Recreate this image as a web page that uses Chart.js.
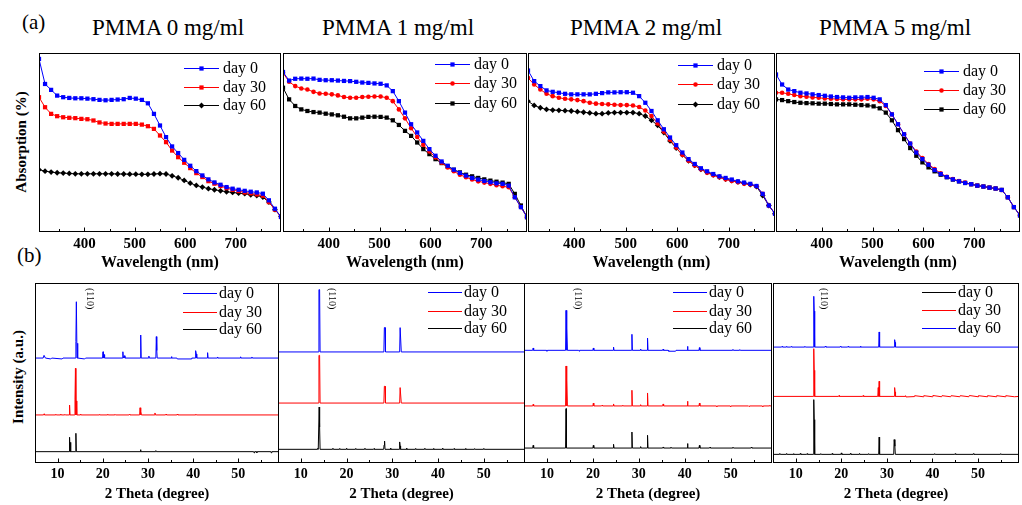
<!DOCTYPE html>
<html><head><meta charset="utf-8">
<script src="https://cdn.jsdelivr.net/npm/chart.js@4.4.1/dist/chart.umd.min.js"></script>
<style>
html,body{margin:0;padding:0;background:#fff;}
#wrap{position:relative;width:1022px;height:505px;overflow:hidden;background:#fff;font-family:"Liberation Serif","Times New Roman",serif;color:#000;}
canvas{position:absolute;}
.t{position:absolute;white-space:nowrap;line-height:1;}
.ttl{font-size:23px;transform:translateX(-50%);}
.yt{font-size:15px;font-weight:bold;transform:translate(-50%,-50%) rotate(-90deg);}
</style></head><body>
<div id="wrap">
  <div class="t" style="left:22px;top:12px;font-size:21px;">(a)</div>
  <div class="t" style="left:17px;top:245px;font-size:21px;">(b)</div>
  <div class="t ttl" style="left:168px;top:16px;">PMMA 0 mg/ml</div>
  <div class="t ttl" style="left:398px;top:16px;">PMMA 1 mg/ml</div>
  <div class="t ttl" style="left:646px;top:16px;">PMMA 2 mg/ml</div>
  <div class="t ttl" style="left:895px;top:16px;">PMMA 5 mg/ml</div>
  <div class="t yt" style="left:21px;top:142px;">Absorption (%)</div>
  <div class="t yt" style="left:18px;top:377px;">Intensity (a.u.)</div>
</div>
<script>
// ---------- DATA ----------
const wavelengths = [310,322,334,346,358,370,382,394,406,418,430,442,454,466,478,490,502,514,526,538,550,562,574,586,598,610,622,634,646,658,670,682,694,706,718,730,742,754,766,778,790];
const wlTickValues = [350,400,450,500,550,600,650,700,750];
const wlTickLabels = [400,500,600,700];
const thetaTickValues = [10,15,20,25,30,35,40,45,50,55];
const thetaTickLabels = [10,20,30,40,50];
const dayLabels = ['day 0','day 30','day 60'];
const panelTitles = ['PMMA 0 mg/ml','PMMA 1 mg/ml','PMMA 2 mg/ml','PMMA 5 mg/ml'];

// absorption (arbitrary %)
const abs0_day0  = [96.7,82.7,79.4,76.2,75.3,74.9,74.7,74.7,74.5,74.2,73.8,73.6,73.8,74.0,74.2,74.9,74.5,73.8,71.9,66.0,59.5,53.0,47.8,44.1,40.3,37.0,34.0,31.6,29.4,27.7,26.4,25.1,24.2,23.6,23.0,22.5,22.1,21.4,17.7,13.0,8.4];
const abs0_day30 = [75.3,69.7,66.0,64.7,64.1,63.8,63.6,63.2,63.0,62.3,61.2,60.6,60.4,60.4,60.4,60.4,60.4,60.0,59.1,57.6,53.9,50.2,45.5,41.8,38.7,35.7,32.9,30.7,28.4,27.0,25.7,24.5,23.6,22.9,22.1,21.6,21.0,20.3,16.7,12.5,8.4];
const abs0_day60 = [34.8,34.0,33.5,33.1,32.9,32.7,32.5,32.5,32.5,32.5,32.5,32.5,32.5,32.4,32.4,32.3,32.3,32.2,32.2,32.4,32.6,32.4,31.4,30.3,28.8,27.3,26.0,25.1,24.2,23.6,23.0,22.5,22.1,21.7,21.4,20.8,20.4,19.5,16.7,12.5,8.7];
const abs1_day0  = [89.4,84.6,85.6,85.7,85.6,85.7,85.0,84.8,84.8,84.6,84.4,84.3,83.9,83.5,83.3,83.0,82.8,81.9,78.7,73.1,66.7,60.2,55.6,50.9,46.3,42.6,39.4,37.0,34.8,33.0,31.5,30.2,29.3,28.5,27.8,27.2,26.9,25.9,19.4,13.9,8.3];
const abs1_day30 = [88.9,83.9,81.5,80.2,79.6,78.3,77.4,77.2,76.9,76.3,75.4,75.0,75.0,75.4,75.6,75.7,75.7,75.0,73.1,68.5,63.5,58.0,53.1,48.7,45.0,41.7,38.7,36.1,33.9,32.0,30.6,29.3,28.3,27.6,26.9,26.1,25.6,25.0,19.4,13.9,8.3];
const abs1_day60 = [80.6,74.1,70.4,68.5,67.6,67.0,66.7,66.1,65.7,65.2,64.4,63.5,63.5,63.9,64.3,64.4,64.3,63.9,62.4,59.8,56.5,53.7,50.0,46.3,43.5,40.7,38.5,36.5,34.8,33.3,32.0,31.1,30.2,29.4,28.7,28.1,27.6,26.9,21.3,14.8,8.3];
const abs2_day0  = [90.2,84.3,81.5,79.1,78.3,77.8,77.2,76.9,76.9,76.9,76.9,77.2,77.6,78.0,78.0,78.1,78.1,77.8,75.9,72.2,67.6,62.4,57.4,52.8,48.5,44.4,40.7,38.0,35.6,33.9,32.4,31.1,30.2,29.3,28.3,27.6,26.9,25.7,21.3,14.8,10.2];
const abs2_day30 = [86.1,82.4,79.6,77.2,75.9,75.0,74.4,74.1,73.7,73.1,72.2,71.7,71.5,71.3,71.1,70.9,70.9,70.7,69.8,67.9,64.8,60.6,56.1,51.5,47.2,43.1,39.8,37.2,35.0,33.1,31.7,30.6,29.4,28.5,27.8,27.0,26.5,25.6,21.3,14.8,10.2];
const abs2_day60 = [73.1,70.7,69.4,68.5,68.1,68.0,67.8,67.6,67.2,66.9,66.5,66.1,66.1,66.5,66.7,66.7,66.7,66.7,66.1,64.8,62.4,59.6,55.6,50.9,46.9,43.1,39.8,37.2,35.0,33.3,31.9,30.7,29.6,28.7,28.0,27.2,26.5,25.4,20.4,14.8,10.2];
const abs3_day0  = [88.0,82.4,79.6,78.7,77.8,77.4,76.9,76.5,76.1,75.7,75.4,75.2,75.0,75.2,75.2,75.4,75.0,74.1,70.9,65.7,60.2,54.6,49.4,44.4,40.7,37.6,34.6,32.4,30.7,29.4,28.3,27.4,26.7,25.9,25.4,24.8,24.3,23.5,19.4,13.9,9.3];
const abs3_day30 = [77.8,77.8,77.2,76.5,75.9,75.6,75.2,75.0,74.6,74.4,74.3,74.1,74.1,74.1,74.1,74.4,74.1,73.1,70.4,65.7,60.2,54.6,49.4,45.0,41.3,38.0,35.2,32.8,30.9,29.6,28.5,27.6,26.7,25.9,25.4,24.8,24.3,23.5,19.4,13.9,9.3];
const abs3_day60 = [74.1,73.7,73.1,72.6,72.2,72.0,71.9,71.7,71.7,71.5,71.3,71.3,71.3,71.1,70.9,70.7,70.2,69.1,66.7,62.4,56.9,51.9,46.9,42.6,38.9,36.1,33.9,32.0,30.6,29.3,28.3,27.4,26.7,25.9,25.4,24.8,24.3,23.5,19.4,13.9,9.3];

// XRD patterns [2theta, stacked intensity]
const xrd0_day0 = [[5,58.3],[6.8,58.3],[7.0,59.8],[7.3,58.3],[8.5,57.8],[8.7,58.3],[11,57.8],[11.2,58.3],[13.95,58.3],[14.05,67.5],[14.15,89.6],[14.3,58.3],[14.4,66.5],[14.5,58.3],[16,57.8],[16.2,58.3],[19.95,58.3],[20.05,61.8],[20.15,58.3],[20.3,60.2],[20.4,58.3],[24.35,58.3],[24.45,61.8],[24.55,58.3],[24.8,59.6],[24.9,58.3],[28.3,58.3],[28.4,71.1],[28.5,58.3],[30.1,58.3],[30.2,59.4],[30.3,58.3],[31.75,58.3],[31.85,70.2],[31.95,62.5],[32.05,58.3],[35.1,58.3],[35.2,59.1],[35.3,58.3],[36.4,58.3],[36.5,57.8],[39.6,57.8],[39.7,58.3],[40.45,58.3],[40.55,62.4],[40.7,60.5],[40.8,58.3],[43.1,58.3],[43.2,61.3],[43.3,58.3],[45.3,58.3],[45.4,58.9],[45.5,58.3],[50.4,58.3],[50.5,59.0],[50.6,58.3],[52.9,58.3],[53.0,58.9],[53.1,58.3],[59,58.3]];
const xrd0_day30 = [[5,26.7],[6.9,26.7],[7.0,27.3],[7.1,26.7],[9.5,26.7],[9.6,27.1],[9.7,26.7],[10.6,26.7],[10.7,27.2],[10.8,26.7],[11.5,26.7],[11.6,27.0],[11.7,26.7],[12.55,26.7],[12.65,32.2],[12.75,26.7],[13.75,26.7],[13.85,35.5],[13.95,52.6],[14.05,26.7],[14.15,34.5],[14.25,26.7],[15.0,26.7],[15.1,27.2],[15.2,26.7],[19.2,26.7],[19.3,27.0],[19.4,26.7],[21.0,26.7],[21.1,27.1],[21.2,26.7],[22.6,26.7],[22.7,27.0],[22.8,26.7],[25.8,26.7],[25.9,27.0],[26.0,26.7],[28.15,26.7],[28.25,30.7],[28.35,26.7],[28.45,28.5],[28.55,26.7],[31.45,26.7],[31.55,27.8],[31.65,26.7],[33.9,26.7],[34.0,27.2],[34.1,26.7],[36.4,26.7],[36.5,27.2],[36.6,26.7],[40.5,26.7],[40.6,27.1],[40.7,26.7],[59,26.7]];
const xrd0_day60 = [[5,6.3],[12.55,6.3],[12.65,14.3],[12.75,6.3],[12.85,11.5],[12.95,6.3],[13.95,6.3],[14.05,16.5],[14.15,6.3],[28.25,6.3],[28.35,7.4],[28.45,6.3],[31.65,6.3],[31.75,6.9],[31.85,6.3],[53.4,6.3],[53.5,5.6],[53.6,6.3],[54.0,6.3],[54.1,5.7],[54.2,6.3],[57.2,6.3],[57.3,5.6],[57.4,6.3],[59,6.3]];
const xrd1_day0 = [[5,61.7],[13.85,61.7],[13.95,96.3],[14.1,96.3],[14.2,61.7],[28.15,61.7],[28.25,75.2],[28.4,75.2],[28.5,61.7],[31.6,61.7],[31.7,75.2],[31.85,75.2],[31.95,61.7],[59,61.7]];
const xrd1_day30 = [[5,33.3],[13.85,33.3],[13.95,59.8],[14.1,59.8],[14.2,33.3],[28.15,33.3],[28.25,42.6],[28.4,42.6],[28.5,33.3],[31.6,33.3],[31.7,41.9],[31.85,41.9],[31.95,33.3],[59,33.3]];
const xrd1_day60 = [[5,7.6],[13.6,7.6],[13.7,8.2],[13.8,7.6],[13.9,7.6],[14.0,31.1],[14.1,20.0],[14.2,7.6],[16.9,7.6],[17.0,8.2],[17.1,7.6],[18.4,7.6],[18.5,8.1],[18.6,7.6],[19.9,7.6],[20.0,8.2],[20.1,7.6],[21.9,7.6],[22.0,8.1],[22.1,7.6],[23.9,7.6],[24.0,8.2],[24.1,7.6],[25.9,7.6],[26.0,8.0],[26.1,7.6],[28.1,7.6],[28.2,10.0],[28.3,12.2],[28.4,7.6],[29.5,7.6],[29.6,8.3],[29.7,7.6],[31.5,7.6],[31.6,11.7],[31.7,9.5],[31.8,7.6],[33.0,7.6],[33.1,8.3],[33.2,7.6],[35.0,7.6],[35.1,8.1],[35.2,7.6],[37.0,7.6],[37.1,8.2],[37.2,7.6],[38.9,7.6],[39.0,8.1],[39.1,7.6],[40.9,7.6],[41.0,8.3],[41.1,7.6],[43.4,7.6],[43.5,8.0],[43.6,7.6],[45.9,7.6],[46.0,8.1],[46.1,7.6],[47.9,7.6],[48.0,8.0],[48.1,7.6],[49.9,7.6],[50.0,8.1],[50.1,7.6],[59,7.6]];
const xrd2_day0 = [[5,62.6],[6.9,62.6],[7.0,63.9],[7.1,62.6],[9.9,62.6],[10.0,62.1],[10.1,62.6],[14.05,62.6],[14.15,84.8],[14.25,62.6],[14.35,75.0],[14.45,62.6],[16.9,62.6],[17.0,62.1],[17.1,62.6],[20.0,62.6],[20.1,63.9],[20.2,62.6],[24.4,62.6],[24.5,64.4],[24.6,62.6],[28.4,62.6],[28.5,71.5],[28.6,62.6],[30.3,62.6],[30.4,63.3],[30.5,62.6],[31.8,62.6],[31.9,69.4],[32.0,62.6],[35.2,62.6],[35.3,63.3],[35.4,62.6],[36.4,62.6],[36.5,62.1],[38.0,62.1],[38.1,62.6],[40.5,62.6],[40.6,64.8],[40.7,62.6],[43.1,62.6],[43.2,64.1],[43.3,62.6],[50.4,62.6],[50.5,63.1],[50.6,62.6],[51.9,62.6],[52.0,63.0],[52.1,62.6],[59,62.6]];
const xrd2_day30 = [[5,31.7],[6.9,31.7],[7.0,32.6],[7.1,31.7],[14.05,31.7],[14.15,53.9],[14.25,31.7],[14.35,46.0],[14.45,31.7],[20.0,31.7],[20.1,33.3],[20.2,31.7],[21.9,31.7],[22.0,32.1],[22.1,31.7],[24.4,31.7],[24.5,32.8],[24.6,31.7],[26.4,31.7],[26.5,32.1],[26.6,31.7],[28.4,31.7],[28.5,40.4],[28.6,31.7],[30.3,31.7],[30.4,32.4],[30.5,31.7],[31.8,31.7],[31.9,38.9],[32.0,31.7],[35.2,31.7],[35.3,32.8],[35.4,31.7],[40.5,31.7],[40.6,34.3],[40.7,31.7],[43.1,31.7],[43.2,33.3],[43.3,31.7],[46.9,31.7],[47.0,31.3],[47.1,31.7],[49.9,31.7],[50.0,31.3],[50.1,31.7],[53.9,31.7],[54.0,31.4],[54.1,31.7],[56.9,31.7],[57.0,31.3],[57.1,31.7],[58.4,31.7],[58.5,32.0],[58.6,31.7],[59,31.7]];
const xrd2_day60 = [[5,8.3],[6.9,8.3],[7.0,9.8],[7.1,8.3],[14.05,8.3],[14.15,30.2],[14.25,8.3],[20.0,8.3],[20.1,9.8],[20.2,8.3],[24.4,8.3],[24.5,10.4],[24.6,8.3],[28.4,8.3],[28.5,17.2],[28.6,8.3],[30.3,8.3],[30.4,9.1],[30.5,8.3],[31.8,8.3],[31.9,15.4],[32.0,8.3],[35.2,8.3],[35.3,8.9],[35.4,8.3],[36.9,8.3],[37.0,8.8],[37.1,8.3],[40.5,8.3],[40.6,10.8],[40.7,8.3],[43.1,8.3],[43.2,9.8],[43.3,8.3],[45.4,8.3],[45.5,8.8],[45.6,8.3],[50.4,8.3],[50.5,8.8],[50.6,8.3],[54.4,8.3],[54.5,8.8],[54.6,8.3],[59,8.3]];
const xrd3_day0 = [[5,4.8],[6.4,4.8],[6.5,5.3],[6.6,4.8],[7.9,4.8],[8.0,5.3],[8.1,4.8],[9.4,4.8],[9.5,5.2],[9.6,4.8],[10.9,4.8],[11.0,5.3],[11.1,4.8],[12.4,4.8],[12.5,5.2],[12.6,4.8],[13.85,4.8],[13.95,35.2],[14.05,24.1],[14.15,4.8],[15.4,4.8],[15.5,5.2],[15.6,4.8],[17.9,4.8],[18.0,5.3],[18.1,4.8],[19.9,4.8],[20.0,5.6],[20.1,4.8],[21.9,4.8],[22.0,5.3],[22.1,4.8],[23.9,4.8],[24.0,5.3],[24.1,4.8],[25.9,4.8],[26.0,5.2],[26.1,4.8],[28.2,4.8],[28.3,14.4],[28.4,4.8],[31.5,4.8],[31.6,13.0],[31.75,9.3],[31.85,4.8],[40.4,4.8],[40.5,5.2],[40.6,4.8],[44.9,4.8],[45.0,5.2],[45.1,4.8],[48.9,4.8],[49.0,5.2],[49.1,4.8],[54.9,4.8],[55.0,5.2],[55.1,4.8],[59,4.8]];
const xrd3_day30 = [[5,37.0],[13.85,37.0],[13.95,63.5],[14.05,51.5],[14.15,37.0],[19.4,37.0],[19.5,37.5],[19.6,37.0],[24.7,37.0],[24.8,37.5],[24.9,37.0],[28.0,37.0],[28.1,41.9],[28.2,37.0],[28.3,45.4],[28.4,37.0],[31.6,37.0],[31.7,41.9],[31.8,39.5],[31.9,37.0],[34.0,37.0],[34.1,37.4],[34.2,36.7],[36.0,36.9],[36.1,37.4],[38.0,36.8],[38.1,37.4],[40.0,36.8],[40.1,37.5],[42.0,36.8],[42.1,37.4],[44.0,36.8],[44.1,37.4],[46.0,36.8],[46.1,37.4],[48.0,36.8],[48.1,37.5],[50.0,36.8],[50.1,37.4],[52.0,36.8],[52.1,37.4],[54.0,36.8],[54.1,37.4],[56.0,36.8],[56.1,37.4],[58.0,36.8],[59,37.0]];
const xrd3_day60 = [[5,64.4],[6.9,64.4],[7.0,64.8],[7.1,64.4],[7.9,64.4],[8.0,64.8],[8.1,64.4],[8.9,64.4],[9.0,64.7],[9.1,64.4],[11.9,64.4],[12.0,64.8],[12.1,64.4],[13.85,64.4],[13.95,92.6],[14.05,84.4],[14.15,64.4],[16.4,64.4],[16.5,64.9],[16.6,64.4],[19.7,64.4],[19.8,64.8],[19.9,64.4],[21.4,64.4],[21.5,64.8],[21.6,64.4],[24.1,64.4],[24.2,64.9],[24.3,64.4],[28.2,64.4],[28.3,72.8],[28.4,64.4],[31.6,64.4],[31.7,68.5],[31.8,67.0],[31.9,64.4],[59,64.4]];

// ---------- STYLE / LAYOUT ----------
const BLUE='#0000ff', RED='#ff0000', BLACK='#000000';
const SERIF='"Liberation Serif","Times New Roman",serif';
const wrap=document.getElementById('wrap');

const framePlugin={id:'frame',afterDraw(chart,args,o){
  const ctx=chart.ctx, ca=chart.chartArea, x=chart.scales.x;
  ctx.save(); ctx.strokeStyle='#000'; ctx.lineWidth=1;
  const l=Math.round(ca.left), t=Math.round(ca.top), r=Math.round(ca.right)-1, b=Math.round(ca.bottom)-1;
  ctx.strokeRect(l+0.5,t+0.5,r-l,b-t);
  ctx.beginPath();
  x.ticks.forEach(tk=>{
    const px=Math.round(x.getPixelForValue(tk.value))+0.5;
    const len=o.majors.includes(tk.value)?4:2.5;
    ctx.moveTo(px,b+0.5); ctx.lineTo(px,b+0.5-len);
  });
  ctx.stroke(); ctx.restore();
}};

function drawMarker(ctx,style,x,y,r){
  ctx.beginPath();
  if(style==='rect'){const s=r*Math.SQRT1_2; ctx.rect(x-s,y-s,2*s,2*s);}
  else if(style==='rectRot'){ctx.moveTo(x,y-r);ctx.lineTo(x+r,y);ctx.lineTo(x,y+r);ctx.lineTo(x-r,y);ctx.closePath();}
  else {ctx.arc(x,y,r,0,Math.PI*2);}
  ctx.fill();
}

const legendPlugin={id:'inLegend',afterDraw(chart,args,o){
  const ctx=chart.ctx, ca=chart.chartArea;
  ctx.save();
  chart.data.datasets.forEach((ds,i)=>{
    const x0=ca.left+o.x, y=Math.round(ca.top+o.rows[i])+0.5;
    ctx.strokeStyle=ds.borderColor; ctx.lineWidth=1;
    ctx.beginPath(); ctx.moveTo(x0,y); ctx.lineTo(x0+o.len,y); ctx.stroke();
    if(ds.pointRadius>0){ctx.fillStyle=ds.borderColor; drawMarker(ctx,ds.pointStyle,x0+o.len/2,y,ds.pointRadius);}
    ctx.fillStyle='#000'; ctx.font='16px '+SERIF; ctx.textBaseline='middle'; ctx.textAlign='left';
    ctx.fillText(ds.label,x0+o.gap,y);
  });
  ctx.restore();
}};

const peakPlugin={id:'peakLabel',afterDraw(chart,args,o){
  if(!o||!o.text) return;
  const ctx=chart.ctx, ca=chart.chartArea;
  const x=chart.scales.x.getPixelForValue(o.value)+o.dx, y=ca.top+o.dy;
  ctx.save(); ctx.translate(x,y); ctx.rotate(Math.PI/2);
  ctx.fillStyle='#000'; ctx.font='10px '+SERIF; ctx.textBaseline='middle'; ctx.textAlign='left';
  ctx.fillText(o.text,0,0); ctx.restore();
}};

function makeChart(p){
  const c=document.createElement('canvas');
  c.width=p.W+4; c.height=2+p.H+40;
  c.style.left=(p.L-2)+'px'; c.style.top=(p.T-2)+'px';
  c.style.width=c.width+'px'; c.style.height=c.height+'px';
  wrap.appendChild(c);
  new Chart(c,{
    type:'line',
    data:{datasets:p.datasets},
    options:{
      responsive:false, animation:false, devicePixelRatio:1,
      layout:{padding:{left:2,right:2,top:2,bottom:0}},
      plugins:{legend:{display:false},tooltip:{enabled:false},
        frame:{majors:p.majors}, inLegend:p.legend, peakLabel:p.peak||{}},
      elements:{line:{tension:0}},
      scales:{
        x:{type:'linear',min:p.min,max:p.max,
          grid:{display:false,drawTicks:false},border:{display:false},
          afterBuildTicks:s=>{s.ticks=p.tickValues.map(v=>({value:v}));},
          afterFit:s=>{s.height=40;},
          ticks:{autoSkip:false,maxRotation:0,minRotation:0,padding:3,color:'#000',
            font:{family:SERIF,size:p.tickSize,weight:'bold'},
            callback:v=>p.majors.includes(v)?String(v):''},
          title:{display:true,text:p.xTitle,color:'#000',padding:0,
            font:{family:SERIF,size:p.titleSize,weight:'bold'}}},
        y:{display:false,min:0,max:100}
      }
    },
    plugins:[framePlugin,legendPlugin,peakPlugin]
  });
}

function absSet(label,vals,color,style,r){
  return {label,data:wavelengths.map((w,i)=>({x:w,y:vals[i]})),borderColor:color,backgroundColor:color,
    borderWidth:1,pointStyle:style,pointRadius:r,pointBackgroundColor:color,pointBorderWidth:0,pointHoverRadius:r};
}
function xrdSet(label,pts,color){
  return {label,data:pts.map(a=>({x:a[0],y:a[1]})),borderColor:color,backgroundColor:color,
    borderWidth:1,pointRadius:0,pointHoverRadius:0};
}

// top row: absorption
const topL=[38,282,527,775], topW=[244,246,249,246];
const topLegX=[145,152,150,148];
const topRows=[[14.7,33.7,52.3],[11.3,30.3,49.7],[12.3,31.3,50.7],[18,37,56.3]];
const absSeries=[[abs0_day0,abs0_day30,abs0_day60],[abs1_day0,abs1_day30,abs1_day60],[abs2_day0,abs2_day30,abs2_day60],[abs3_day0,abs3_day30,abs3_day60]];
const absStyles=[['rect','rect','rectRot'],['rect','circle','rect'],['rect','circle','rectRot'],['rect','circle','rect']];
const styleR={rect:3.0,circle:2.3,rectRot:2.9};
const absColors=[BLUE,RED,BLACK];
for(let k=0;k<4;k++){
  makeChart({L:topL[k],T:52,W:topW[k],H:180,min:310,max:790,
    tickValues:wlTickValues,majors:wlTickLabels,tickSize:15,titleSize:16,xTitle:'Wavelength (nm)',
    legend:{x:topLegX[k],rows:topRows[k],len:35,gap:39},
    datasets:absSeries[k].map((v,i)=>absSet(dayLabels[i],v,absColors[i],absStyles[k][i],styleR[absStyles[k][i]]))});
}

// bottom row: XRD
const botL=[35,278,524,773], botW=[244,247,248,246];
const botLegX=[148,150,149,149];
const botRows=[[10.3,28.7,46.3],[8.7,27.7,45.3],[8.7,27.7,45.3],[8.7,27,45.3]];
const xrdSeries=[[xrd0_day0,xrd0_day30,xrd0_day60],[xrd1_day0,xrd1_day30,xrd1_day60],[xrd2_day0,xrd2_day30,xrd2_day60],[xrd3_day0,xrd3_day30,xrd3_day60]];
const xrdColors=[[BLUE,RED,BLACK],[BLUE,RED,BLACK],[BLUE,RED,BLACK],[BLACK,RED,BLUE]];
const peakPos=[14.2,14.0,14.2,14.0], peakDx=[13,12,11,10];
for(let k=0;k<4;k++){
  makeChart({L:botL[k],T:283,W:botW[k],H:180,min:5,max:59,
    tickValues:thetaTickValues,majors:thetaTickLabels,tickSize:14,titleSize:15,xTitle:'2 Theta (degree)',
    legend:{x:botLegX[k],rows:botRows[k],len:34,gap:36},
    peak:{text:'(110)',value:peakPos[k],dx:peakDx[k],dy:5},
    datasets:xrdSeries[k].map((v,i)=>xrdSet(dayLabels[i],v,xrdColors[k][i]))});
}
</script>
</body></html>
